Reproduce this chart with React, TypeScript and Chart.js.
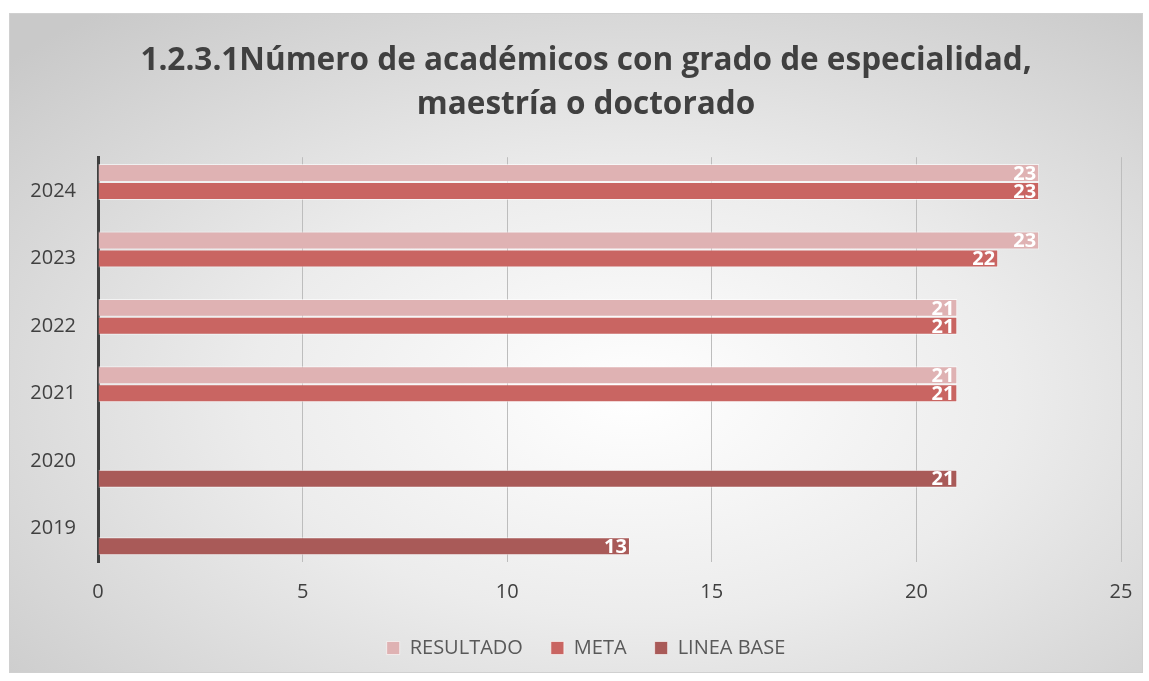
import React, { useEffect, useRef } from "react";
import { Chart, registerables } from "chart.js";

Chart.register(...registerables);

const categories = ["2024", "2023", "2022", "2021", "2020", "2019"];
const resultado = [23, 23, 21, 21, null, null];
const meta = [23, 22, 21, 21, null, null];
const lineaBase = [null, null, null, null, 21, 13];
const xTicks = [0, 5, 10, 15, 20, 25];
const titleLines = [
  "1.2.3.1Número de académicos con grado de especialidad,",
  "maestría o doctorado",
];

const FONT = "'Open Sans', 'Noto Sans', sans-serif";

const valueLabels = {
  id: "valueLabels",
  afterDatasetsDraw(chart: any) {
    const ctx = chart.ctx;
    ctx.save();
    ctx.font = `bold 20px ${FONT}`;
    ctx.fillStyle = "#ffffff";
    ctx.textAlign = "right";
    ctx.textBaseline = "middle";
    chart.data.datasets.forEach((ds: any, di: number) => {
      const meta = chart.getDatasetMeta(di);
      if (meta.hidden) return;
      meta.data.forEach((bar: any, i: number) => {
        const v = ds.data[i];
        if (v === null || v === undefined) return;
        ctx.fillText(String(v), bar.x - 3, bar.y + 1);
      });
    });
    ctx.restore();
  },
};

export default function App() {
  const ref = useRef<HTMLCanvasElement>(null);
  useEffect(() => {
    const chart = new Chart(ref.current!, {
      type: "bar",
      data: {
        labels: categories,
        datasets: [
          {
            label: "RESULTADO",
            data: resultado,
            backgroundColor: "#dfb2b3",
            borderColor: "rgba(255,255,255,0.6)",
            borderWidth: 1,
          },
          {
            label: "META",
            data: meta,
            backgroundColor: "#c96562",
            borderColor: "rgba(255,255,255,0.6)",
            borderWidth: 1,
          },
          {
            label: "LINEA BASE",
            data: lineaBase,
            backgroundColor: "#a95a58",
            borderColor: "rgba(255,255,255,0.6)",
            borderWidth: 1,
          },
        ],
      },
      options: {
        indexAxis: "y",
        animation: false,
        responsive: false,
        maintainAspectRatio: false,
        categoryPercentage: 0.8,
        barPercentage: 1.0,
        layout: { padding: { left: 20, right: 0, top: 17, bottom: 4 } },
        scales: {
          x: {
            min: 0,
            max: 25,
            afterBuildTicks: (axis: any) => {
              axis.ticks = xTicks.map((v) => ({ value: v }));
            },
            afterFit: (axis: any) => {
              axis.height -= 12;
              axis.paddingRight = 21;
              axis.paddingLeft = 0;
            },
            grid: { color: "#bdbdbd", lineWidth: 1, drawTicks: false },
            border: { display: false },
            ticks: {
              color: "#404040",
              font: { family: FONT, size: 20 },
              padding: 18,
            },
          },
          y: {
            afterFit: (axis: any) => {
              axis.width = 68;
            },
            grid: { display: false },
            border: { color: "#404040", width: 3 },
            ticks: {
              color: "#404040",
              font: { family: FONT, size: 20 },
              padding: 14,
            },
          },
        },
        plugins: {
          title: {
            display: true,
            text: titleLines,
            color: "#404040",
            font: { family: FONT, size: 31.5, weight: "bold", lineHeight: 1.4 },
            padding: { top: 8, bottom: 30 },
          },
          legend: {
            position: "bottom",
            labels: {
              usePointStyle: true,
              pointStyle: "rect",
              boxWidth: 13,
              boxHeight: 13,
              padding: 28,
              color: "#595959",
              font: { family: FONT, size: 20 },
            },
          },
          tooltip: { enabled: false },
        },
      },
      plugins: [valueLabels],
    } as any);
    return () => chart.destroy();
  }, []);

  return (
    <div
      style={{
        position: "absolute",
        left: 9,
        top: 13,
        width: 1134,
        height: 660,
        border: "1px solid #d0d0d0",
        boxSizing: "border-box",
        background:
          "radial-gradient(ellipse 75% 75% at 55% 58%, #ffffff 0%, #ececec 45%, #c9c9c9 100%)",
      }}
    >
      <canvas ref={ref} width={1132} height={658} style={{ display: "block" }} />
    </div>
  );
}
